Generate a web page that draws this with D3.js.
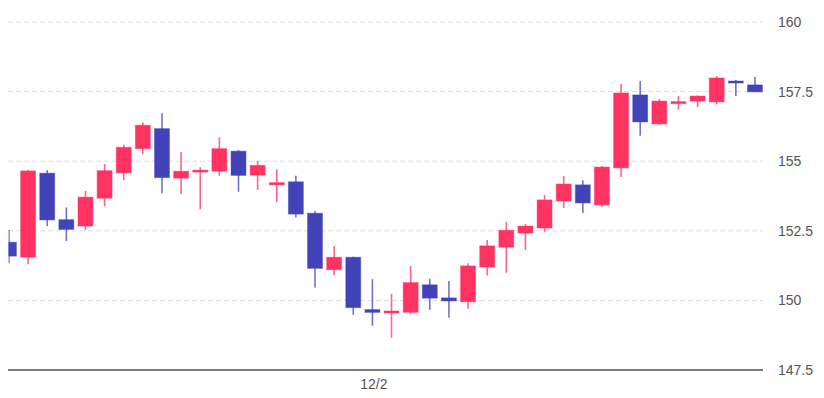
<!DOCTYPE html>
<html lang="en">
<head>
  <meta charset="UTF-8">
  <script src="https://d3js.org/d3.v7.min.js"></script>
  <style>
    body { margin: 0; background: #fff; }
    text { font-family: "Liberation Sans", Arial, sans-serif; font-size: 14px; fill: #555; }
    .grid line { stroke: #ddd; stroke-dasharray: 5,3; }
  </style>
</head>
<body>
  <script>
    // hourly candles, 12/1 05:00 .. 12/2 20:00
    const hours = d3.range(40).map(i => new Date(2023, 11, 1, 5 + i));
    const opens  = [152.09,151.55,154.57,152.90,152.67,153.67,154.58,155.45,156.17,154.39,
                    154.61,154.64,155.36,154.50,154.15,154.26,153.13,151.10,151.55,149.67,
                    149.57,149.57,150.56,150.09,149.95,151.20,151.91,152.42,152.60,153.57,
                    154.15,153.43,154.76,157.38,156.34,157.11,157.16,157.13,157.88,157.74];
    const highs  = [152.53,154.68,154.68,153.34,153.93,154.90,155.59,156.40,156.72,155.33,
                    154.78,155.86,155.40,155.01,154.71,154.48,153.21,151.95,151.57,150.76,
                    150.24,151.24,150.78,150.70,151.33,152.17,152.82,152.74,153.79,154.47,
                    154.32,154.83,157.77,157.88,157.23,157.34,157.36,158.06,157.92,158.02];
    const lows   = [151.33,151.30,152.67,152.13,152.53,153.39,154.32,155.25,153.85,153.82,
                    153.27,154.48,153.90,153.97,153.53,152.98,150.46,150.90,149.48,149.09,
                    148.66,149.52,149.66,149.38,149.70,150.89,150.99,151.81,152.46,153.32,
                    153.14,153.36,154.43,155.91,156.30,156.87,156.95,157.05,157.34,157.49];
    const closes = [151.59,154.65,152.89,152.55,153.71,154.66,155.50,156.29,154.41,154.64,
                    154.68,155.45,154.49,154.85,154.23,153.10,151.15,151.55,149.74,149.57,
                    149.62,150.64,150.08,149.98,151.24,151.96,152.52,152.67,153.61,154.18,
                    153.50,154.79,157.45,156.41,157.16,157.14,157.34,157.99,157.83,157.49];
    const yTicks = [147.5, 150, 152.5, 155, 157.5, 160];
    const xTickIndex = [19];
    const xTickLabels = ["12/2"];

    const width = 824, height = 398;
    const m = { left: 8, right: 763, top: 22, bottom: 370 };
    const upColor = "#ff3361", downColor = "#4343b9";

    const svg = d3.select("body").append("svg").attr("width", width).attr("height", height);

    const x = d3.scaleLinear().domain([-0.05, 39.42]).range([m.left, m.right]);
    const y = d3.scaleLinear().domain([147.5, 160]).range([m.bottom, m.top]);
    const step = x(1) - x(0);
    const bodyW = step * 0.78;

    svg.append("defs").append("clipPath").attr("id", "plot")
      .append("rect").attr("x", m.left + 0.5).attr("y", 0).attr("width", m.right - m.left).attr("height", height);

    // grid
    svg.append("g").attr("class", "grid")
      .selectAll("line").data(yTicks.filter(t => t > 147.5)).join("line")
      .attr("x1", m.left).attr("x2", m.right)
      .attr("y1", d => y(d)).attr("y2", d => y(d));

    // y axis labels on the right
    svg.append("g").selectAll("text").data(yTicks).join("text")
      .attr("x", 778).attr("y", d => y(d)).attr("dy", "0.35em")
      .text(d => d);

    const candles = hours.map((t, i) => ({ i, o: opens[i], h: highs[i], l: lows[i], c: closes[i] }));
    const g = svg.append("g").attr("clip-path", "url(#plot)");

    g.selectAll(".wick").data(candles).join("line")
      .attr("class", "wick")
      .attr("x1", d => x(d.i)).attr("x2", d => x(d.i))
      .attr("y1", d => y(d.h)).attr("y2", d => y(d.l))
      .attr("stroke", d => d.c >= d.o ? upColor : downColor)
      .attr("stroke-opacity", 0.75)
      .attr("stroke-width", 1.6);

    g.selectAll(".body").data(candles).join("rect")
      .attr("class", "body")
      .attr("x", d => x(d.i) - bodyW / 2)
      .attr("width", bodyW)
      .attr("y", d => y(Math.max(d.o, d.c)))
      .attr("height", d => Math.max(2, Math.abs(y(d.o) - y(d.c))))
      .attr("fill", d => d.c >= d.o ? upColor : downColor)
      .attr("stroke", d => d.c >= d.o ? upColor : downColor)
      .attr("stroke-opacity", 0.45)
      .attr("stroke-width", 1);

    // bottom axis
    svg.append("line")
      .attr("x1", m.left).attr("x2", m.right)
      .attr("y1", m.bottom).attr("y2", m.bottom)
      .attr("stroke", "#4b5057").attr("stroke-width", 1.5);

    svg.append("g").selectAll("text").data(xTickIndex).join("text")
      .attr("x", d => x(d) + 1.5).attr("y", 389)
      .attr("text-anchor", "middle")
      .text((d, k) => xTickLabels[k]);
  </script>
</body>
</html>
